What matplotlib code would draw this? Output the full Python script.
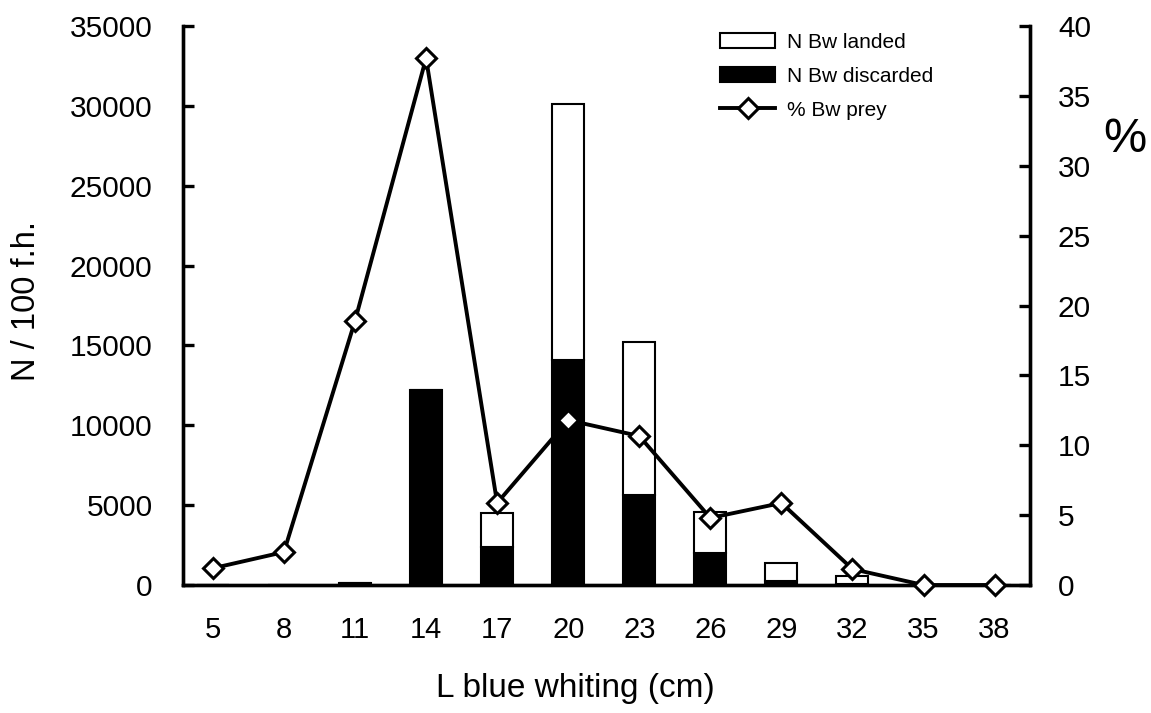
import numpy as np
import matplotlib.pyplot as plt

plt.rcParams['font.family'] = ['Liberation Sans', 'DejaVu Sans']

# length classes (cm)
lengths = [5, 8, 11, 14, 17, 20, 23, 26, 29, 32, 35, 38]
# N / 100 fishing hours
n_discarded = [0, 0, 150, 12200, 2380, 14100, 5630, 2000, 250, 80, 0, 0]
n_landed = [0, 0, 0, 0, 2120, 16000, 9580, 2570, 1130, 480, 0, 0]
# % blue whiting as prey
pct_prey = [1.2, 2.36, 18.9, 37.7, 5.87, 11.8, 10.66, 4.8, 5.87, 1.14, 0, 0]

x = np.arange(len(lengths))

fig = plt.figure(figsize=(11.51, 7.13), dpi=100)
ax = fig.add_axes([0.159, 0.1795, 0.736, 0.784])
ax2 = ax.twinx()

b1 = ax.bar(x, n_discarded, width=0.45, color='black', edgecolor='black', linewidth=1.5,
            label='N Bw discarded')
b2 = ax.bar(x, n_landed, width=0.45, bottom=n_discarded, color='white', edgecolor='black',
            linewidth=1.5, label='N Bw landed')
l1, = ax2.plot(x, pct_prey, color='black', lw=2.8, marker='D', markersize=10,
               markerfacecolor='white', markeredgecolor='black', markeredgewidth=2.2,
               label='% Bw prey', clip_on=False, zorder=5)

ax.set_xlim(-0.42, 11.5)
ax.set_ylim(0, 35000)
ax2.set_ylim(0, 40)
ax.set_yticks(range(0, 35001, 5000))
ax2.set_yticks(range(0, 41, 5))
ax.set_xticks(x)
ax.set_xticklabels(lengths)

# bars behind the line
ax.set_zorder(1)
ax2.set_zorder(2)
ax2.patch.set_visible(False)

for a in (ax, ax2):
    a.spines['top'].set_visible(False)
    for s in ('left', 'right', 'bottom'):
        a.spines[s].set_linewidth(2.4)
ax.tick_params(axis='y', direction='in', length=8, width=2.4, labelsize=21.5, pad=22)
ax2.tick_params(axis='y', direction='in', length=8, width=2.4, labelsize=21.5, pad=20)
ax.tick_params(axis='x', length=0, labelsize=21, pad=22)

fig.text(0.5, 0.034, 'L blue whiting (cm)', fontsize=24, ha='center', va='center')
fig.text(27 / 1151, 1 - 301 / 713, 'N / 100 f.h.', fontsize=23.5, rotation=90,
         ha='center', va='center')
fig.text(0.977, 0.805, '%', fontsize=35, ha='center', va='center')

ax2.legend([b2, b1, l1], ['N Bw landed', 'N Bw discarded', '% Bw prey'],
           loc='upper left', bbox_to_anchor=(0.634, 0.988), frameon=False,
           fontsize=15, handlelength=2.65, handletextpad=0.55, labelspacing=0.72,
           borderaxespad=0, borderpad=0)

fig.savefig('out.png', dpi=100)
